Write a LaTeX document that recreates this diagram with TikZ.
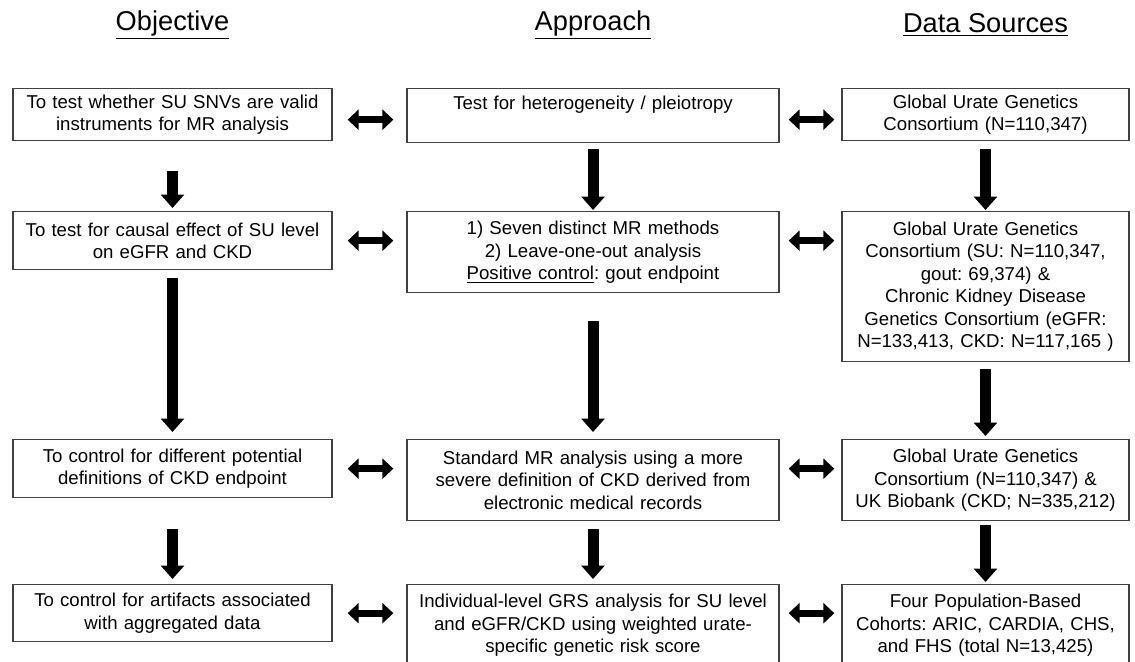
\documentclass[tikz,border=0pt]{standalone}
\usepackage{fontspec}
\setmainfont{Liberation Sans}
\frenchspacing
\usetikzlibrary{arrows.meta,positioning}
\begin{document}
\begin{tikzpicture}[x=0.02cm,y=-0.02cm,
    head/.style={font=\fontsize{15.5}{18}\selectfont},
    box/.style={draw=black!75,line width=0.8pt,anchor=north,align=center,inner sep=0pt,
        font=\fontsize{10.6}{12.8}\selectfont},
    obj/.style={box,text width=6.38cm},
    app/.style={box,text width=7.44cm},
    src/.style={box,text width=5.74cm},
    down/.style={line width=0.22cm,-{Triangle[width=0.46cm,length=0.27cm]}},
    both/.style={line width=0.14cm,{Triangle[width=0.4cm,length=0.22cm]}-{Triangle[width=0.4cm,length=0.22cm]}}]
\useasboundingbox (0,0) rectangle (1135,662);
% column heads
\node[head] (hobj) at (172.5,25) {\underline{Objective}};
\node[head] (happ) at (593,25) {\underline{Approach}};
\node[head] (hsrc) at (985.5,25) {\underline{Data Sources}};
% row 1
\node[obj,minimum height=1.04cm] (o1) at (172.5,88) {To test whether SU SNVs are valid\\instruments for MR analysis};
\node[app,minimum height=1.08cm,text depth=0.5cm] (a1) at (593,88) {Test for heterogeneity / pleiotropy};
\node[src,minimum height=1.04cm] (d1) at (985.5,88) {Global Urate Genetics\\Consortium (N=110,347)};
% row 2
\node[obj,minimum height=1.16cm] (o2) at (172.5,211) {To test for causal effect of SU level\\on eGFR and CKD};
\node[app,minimum height=1.62cm] (a2) at (593,211) {1) Seven distinct MR methods\\2) Leave-one-out analysis\\\underline{Positive control}: gout endpoint};
\node[src,minimum height=3cm] (d2) at (985.5,211) {Global Urate Genetics\\Consortium (SU: N=110,347,\\gout: 69,374) \&\\Chronic Kidney Disease\\Genetics Consortium (eGFR:\\N=133,413, CKD: N=117,165 )};
% row 3
\node[obj,minimum height=1.16cm] (o3) at (172.5,439) {To control for different potential\\definitions of CKD endpoint};
\node[app,minimum height=1.62cm] (a3) at (593,439) {Standard MR analysis using a more\\severe definition of CKD derived from\\electronic medical records};
\node[src,minimum height=1.62cm] (d3) at (985.5,439) {Global Urate Genetics\\Consortium (N=110,347) \&\\UK Biobank (CKD; N=335,212)};
% row 4
\node[obj,minimum height=1.14cm] (o4) at (172.5,584) {To control for artifacts associated\\with aggregated data};
\node[app,minimum height=1.62cm] (a4) at (593,584) {Individual-level GRS analysis for SU level\\and eGFR/CKD using weighted urate-\\specific genetic risk score};
\node[src,minimum height=1.62cm] (d4) at (985.5,584) {Four Population-Based\\Cohorts: ARIC, CARDIA, CHS,\\and FHS (total N=13,425)};
% down arrows
\draw[down,shorten <=0.6cm,shorten >=0.06cm] (o1) -- (o2);
\draw[down,shorten <=0.12cm,shorten >=0.02cm] (a1) -- (a2);
\draw[down,shorten <=0.16cm,shorten >=0.02cm] (d1) -- (d2);
\draw[down,shorten <=0.16cm,shorten >=0.14cm] (o2) -- (o3);
\draw[down,shorten <=0.56cm,shorten >=0.14cm] (a2) -- (a3);
\draw[down,shorten <=0.14cm,shorten >=0.06cm] (d2) -- (d3);
\draw[down,shorten <=0.62cm,shorten >=0.1cm] (o3) -- (o4);
\draw[down,shorten <=0.16cm,shorten >=0.1cm] (a3) -- (a4);
\draw[down,shorten <=0.08cm,shorten >=0.04cm] (d3) -- (d4);
% side arrows
\draw[both,shorten <=0.3cm,shorten >=0.26cm] ([yshift=-0.1cm]o1.east) -- ([yshift=-0.1cm]o1.east -| a1.west);
\draw[both,shorten <=0.18cm,shorten >=0.14cm] ([yshift=-0.1cm]a1.east |- o1) -- ([yshift=-0.1cm]d1.west |- o1);
\foreach \r in {2,3,4}{
  \draw[both,shorten <=0.3cm,shorten >=0.26cm] (o\r.east) -- (o\r.east -| a\r.west);
  \draw[both,shorten <=0.18cm,shorten >=0.14cm] (a\r.east |- o\r) -- (d\r.west |- o\r);
}
\end{tikzpicture}
\end{document}
